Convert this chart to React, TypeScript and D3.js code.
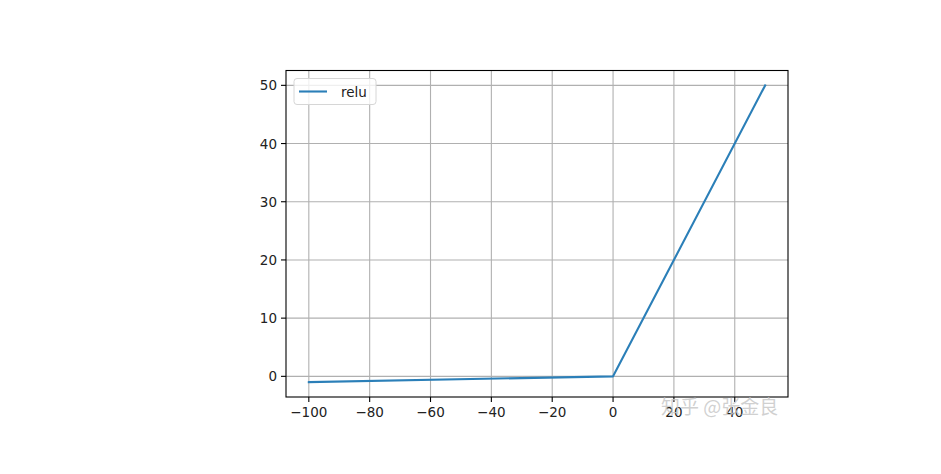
import React from "react";
import * as d3 from "d3";

const xValues = [-100, 0, 50];
const yValues = [-1, 0, 50];
const xTicks = [-100, -80, -60, -40, -20, 0, 20, 40];
const yTicks = [0, 10, 20, 30, 40, 50];
const seriesName = "relu";
const watermark = "知乎 @张金良";

export default function App() {
  const W = 941, H = 474;
  const left = 286, right = 788, top = 70.5, bottom = 397;
  const x = d3.scaleLinear().domain([-107.5, 57.5]).range([left, right]);
  const y = d3.scaleLinear().domain([-3.55, 52.55]).range([bottom, top]);
  const line = d3.line<number>().x((_, i) => x(xValues[i])).y((d) => y(d));
  const font = "'DejaVu Sans', sans-serif";
  const fmt = (v: number) => (v < 0 ? "\u2212" + Math.abs(v) : String(v));
  return (
    <svg width={W} height={H} style={{ position: "absolute", left: 0, top: 0, background: "#fff" }}>
      <rect x={0} y={0} width={W} height={H} fill="#fff" />
      {xTicks.map((t) => (
        <line key={"gx" + t} x1={x(t)} x2={x(t)} y1={top} y2={bottom} stroke="#b0b0b0" strokeWidth={1.1} />
      ))}
      {yTicks.map((t) => (
        <line key={"gy" + t} x1={left} x2={right} y1={y(t)} y2={y(t)} stroke="#b0b0b0" strokeWidth={1.1} />
      ))}
      <path d={line(yValues) || ""} fill="none" stroke="#2b7fb8" strokeWidth={2.1} strokeLinejoin="round" strokeLinecap="square" />
      <rect x={left} y={top} width={right - left} height={bottom - top} fill="none" stroke="#000" strokeWidth={1.1} />
      {xTicks.map((t) => (
        <g key={"tx" + t}>
          <line x1={x(t)} x2={x(t)} y1={bottom} y2={bottom + 5} stroke="#000" strokeWidth={1.1} />
          <text x={x(t)} y={bottom + 20} textAnchor="middle" fontFamily={font} fontSize={13.5} fill="#222">{fmt(t)}</text>
        </g>
      ))}
      {yTicks.map((t) => (
        <g key={"ty" + t}>
          <line x1={left - 5} x2={left} y1={y(t)} y2={y(t)} stroke="#000" strokeWidth={1.1} />
          <text x={left - 9} y={y(t) + 5} textAnchor="end" fontFamily={font} fontSize={13.5} fill="#222">{fmt(t)}</text>
        </g>
      ))}
      <g>
        <rect x={294} y={78.5} width={82} height={26} rx={3} fill="#fff" fillOpacity={0.8} stroke="#d6d6d6" strokeWidth={1} />
        <line x1={299} x2={327} y1={91.5} y2={91.5} stroke="#2b7fb8" strokeWidth={2.1} />
        <text x={341} y={96.5} fontFamily={font} fontSize={13.5} fill="#222">{seriesName}</text>
      </g>
      <text x={661} y={414} fontFamily="'Noto Sans CJK SC', sans-serif" fontSize={19} fill="#c8c8c8" fillOpacity={0.85}>{watermark}</text>
    </svg>
  );
}
